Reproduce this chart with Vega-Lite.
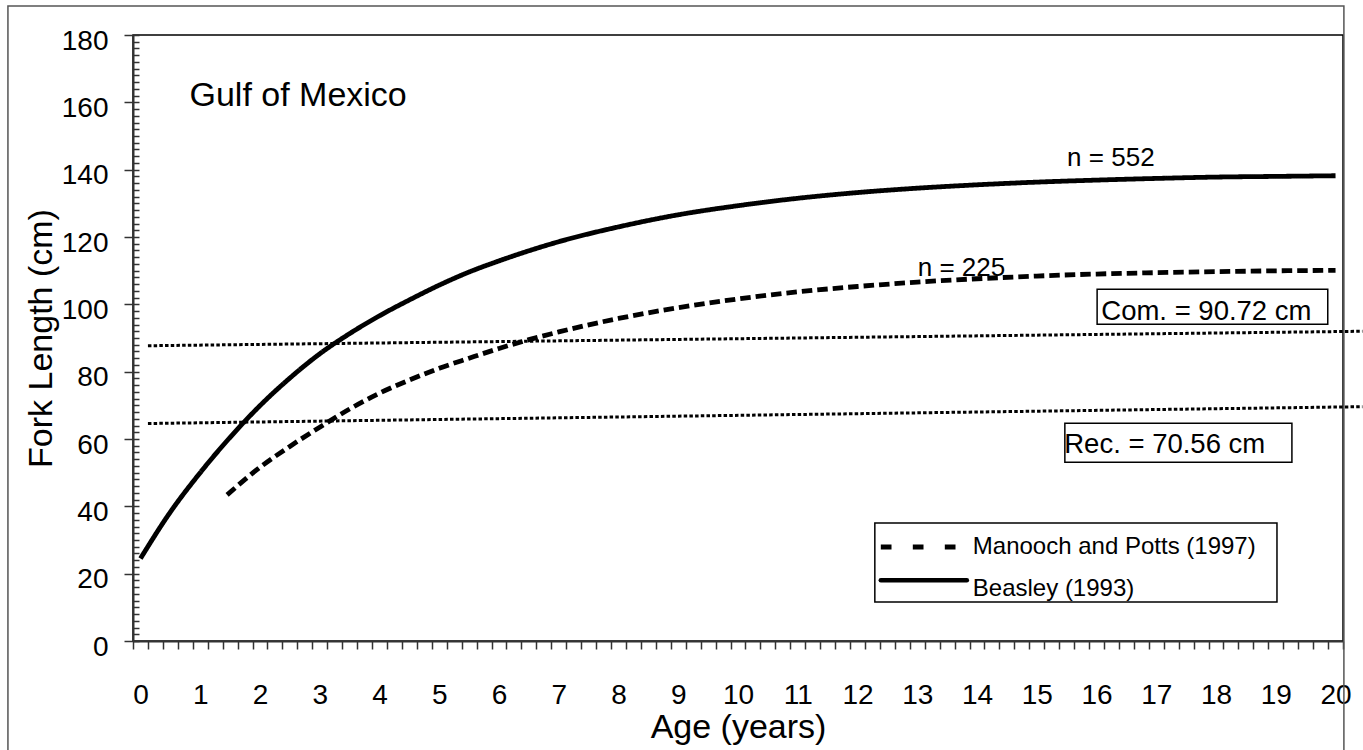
{
  "$schema": "https://vega.github.io/schema/vega-lite/v6.json",
  "width": 1210,
  "height": 606,
  "autosize": "none",
  "padding": {"left": 133, "top": 35, "right": 20, "bottom": 109},
  "background": "white",
  "config": {
    "font": "Liberation Sans",
    "view": {"stroke": "#000", "strokeWidth": 1.5},
    "axis": {"grid": false}
  },
  "datasets": {
    "growth": [
      {"series": "Beasley (1993)", "age": 0, "len": 24.5},
      {"series": "Beasley (1993)", "age": 0.5, "len": 38.3},
      {"series": "Beasley (1993)", "age": 1, "len": 50.0},
      {"series": "Beasley (1993)", "age": 1.5, "len": 60.5},
      {"series": "Beasley (1993)", "age": 2, "len": 69.9},
      {"series": "Beasley (1993)", "age": 2.5, "len": 78.1},
      {"series": "Beasley (1993)", "age": 3, "len": 85.3},
      {"series": "Beasley (1993)", "age": 3.5, "len": 91.3},
      {"series": "Beasley (1993)", "age": 4, "len": 96.6},
      {"series": "Beasley (1993)", "age": 4.5, "len": 101.3},
      {"series": "Beasley (1993)", "age": 5, "len": 105.7},
      {"series": "Beasley (1993)", "age": 5.5, "len": 109.6},
      {"series": "Beasley (1993)", "age": 6, "len": 112.9},
      {"series": "Beasley (1993)", "age": 6.5, "len": 115.9},
      {"series": "Beasley (1993)", "age": 7, "len": 118.6},
      {"series": "Beasley (1993)", "age": 8, "len": 123.0},
      {"series": "Beasley (1993)", "age": 9, "len": 126.6},
      {"series": "Beasley (1993)", "age": 10, "len": 129.3},
      {"series": "Beasley (1993)", "age": 11, "len": 131.5},
      {"series": "Beasley (1993)", "age": 12, "len": 133.2},
      {"series": "Beasley (1993)", "age": 13, "len": 134.5},
      {"series": "Beasley (1993)", "age": 14, "len": 135.5},
      {"series": "Beasley (1993)", "age": 15, "len": 136.3},
      {"series": "Beasley (1993)", "age": 16, "len": 136.9},
      {"series": "Beasley (1993)", "age": 17, "len": 137.4},
      {"series": "Beasley (1993)", "age": 18, "len": 137.8},
      {"series": "Beasley (1993)", "age": 19, "len": 138.0},
      {"series": "Beasley (1993)", "age": 20, "len": 138.2},
      {"series": "Manooch and Potts (1997)", "age": 1.45, "len": 43.4},
      {"series": "Manooch and Potts (1997)", "age": 2, "len": 51.6},
      {"series": "Manooch and Potts (1997)", "age": 2.5, "len": 57.8},
      {"series": "Manooch and Potts (1997)", "age": 3, "len": 63.5},
      {"series": "Manooch and Potts (1997)", "age": 3.5, "len": 68.9},
      {"series": "Manooch and Potts (1997)", "age": 4, "len": 73.6},
      {"series": "Manooch and Potts (1997)", "age": 4.5, "len": 77.5},
      {"series": "Manooch and Potts (1997)", "age": 5, "len": 81.0},
      {"series": "Manooch and Potts (1997)", "age": 5.5, "len": 84.0},
      {"series": "Manooch and Potts (1997)", "age": 6, "len": 86.9},
      {"series": "Manooch and Potts (1997)", "age": 6.5, "len": 89.5},
      {"series": "Manooch and Potts (1997)", "age": 7, "len": 91.8},
      {"series": "Manooch and Potts (1997)", "age": 8, "len": 95.8},
      {"series": "Manooch and Potts (1997)", "age": 9, "len": 99.0},
      {"series": "Manooch and Potts (1997)", "age": 10, "len": 101.6},
      {"series": "Manooch and Potts (1997)", "age": 11, "len": 103.7},
      {"series": "Manooch and Potts (1997)", "age": 12, "len": 105.3},
      {"series": "Manooch and Potts (1997)", "age": 13, "len": 106.6},
      {"series": "Manooch and Potts (1997)", "age": 14, "len": 107.6},
      {"series": "Manooch and Potts (1997)", "age": 15, "len": 108.4},
      {"series": "Manooch and Potts (1997)", "age": 16, "len": 109.0},
      {"series": "Manooch and Potts (1997)", "age": 17, "len": 109.4},
      {"series": "Manooch and Potts (1997)", "age": 18, "len": 109.7},
      {"series": "Manooch and Potts (1997)", "age": 19, "len": 109.95},
      {"series": "Manooch and Potts (1997)", "age": 20, "len": 110.1}
    ],
    "refs": [
      {"line": "Com.", "age": 0.125, "len": 87.7},
      {"line": "Com.", "age": 20.45, "len": 92.0},
      {"line": "Rec.", "age": 0.125, "len": 64.6},
      {"line": "Rec.", "age": 20.45, "len": 69.6}
    ],
    "boxes": [
      {"label": "Com. = 90.72 cm", "tx": 16.08, "ty": 97.6, "x1": 16.01, "x2": 19.87, "y1": 94.1, "y2": 104.5},
      {"label": "Rec. = 70.56 cm", "tx": 15.46, "ty": 58.2, "x1": 15.47, "x2": 19.27, "y1": 53.1, "y2": 64.7}
    ],
    "notes": [
      {"label": "n = 552", "age": 16.24, "len": 143.6},
      {"label": "n = 225", "age": 13.74, "len": 110.9}
    ],
    "region": [
      {"label": "Gulf of Mexico", "age": 0.82, "len": 161.9}
    ],
    "key": [
      {"series": "Manooch and Potts (1997)", "x1": 12.39, "x2": 13.83, "y": 27.93, "tx": 13.93, "ty": 27.93},
      {"series": "Beasley (1993)", "x1": 12.39, "x2": 13.83, "y": 18.04, "tx": 13.93, "ty": 15.54}
    ]
  },
  "layer": [
    {
      "data": {"name": "growth"},
      "mark": {"type": "line", "color": "#000", "strokeWidth": 4.8, "interpolate": "monotone", "clip": false},
      "encoding": {
        "x": {
          "field": "age", "type": "quantitative",
          "scale": {"domain": [-0.125, 20.125], "nice": false, "zero": false},
          "axis": {
            "values": [-0.125,0.125,0.375,0.625,0.875,1.125,1.375,1.625,1.875,2.125,2.375,2.625,2.875,3.125,3.375,3.625,3.875,4.125,4.375,4.625,4.875,5.125,5.375,5.625,5.875,6.125,6.375,6.625,6.875,7.125,7.375,7.625,7.875,8.125,8.375,8.625,8.875,9.125,9.375,9.625,9.875,10.125,10.375,10.625,10.875,11.125,11.375,11.625,11.875,12.125,12.375,12.625,12.875,13.125,13.375,13.625,13.875,14.125,14.375,14.625,14.875,15.125,15.375,15.625,15.875,16.125,16.375,16.625,16.875,17.125,17.375,17.625,17.875,18.125,18.375,18.625,18.875,19.125,19.375,19.625,19.875,20.125],
            "labelExpr": "(datum.value + 0.125) % 1 == 0 ? format(datum.value + 0.125, 'd') : ''",
            "labelOffset": 7.47,
            "labelFontSize": 28,
            "labelColor": "#000",
            "labelPadding": 32,
            "labelFlush": false,
            "labelOverlap": false,
            "labelBound": false,
            "tickSize": 8,
            "tickColor": "#333",
            "tickWidth": 1.5,
            "domainColor": "#333",
            "domainWidth": 2,
            "title": "Age (years)",
            "titleFontSize": 34,
            "titleFontWeight": "normal",
            "titleColor": "#000",
            "titlePadding": 1
          }
        },
        "y": {
          "field": "len", "type": "quantitative",
          "scale": {"domain": [0, 180], "nice": false, "zero": false},
          "axis": {
            "orient": "left",
            "values": [0, 20, 40, 60, 80, 100, 120, 140, 160, 180],
            "labelFontSize": 28,
            "labelColor": "#000",
            "labelPadding": 16,
            "labelOffset": 6,
            "labelOverlap": false,
            "labelBound": false,
            "tickSize": 9,
            "tickColor": "#333",
            "tickWidth": 1.5,
            "domainColor": "#333",
            "domainWidth": 2,
            "title": "Fork Length (cm)",
            "titleFontSize": 34,
            "titleFontWeight": "normal",
            "titleColor": "#000",
            "titlePadding": 3
          }
        },
        "strokeDash": {
          "field": "series", "type": "nominal",
          "scale": {"domain": ["Manooch and Potts (1997)", "Beasley (1993)"], "range": [[10.5, 5], [1, 0]]},
          "legend": null
        }
      }
    },
    {
      "data": {"name": "refs"},
      "mark": {"type": "line", "color": "#000", "strokeWidth": 3, "strokeDash": [3.5, 2.2], "clip": false},
      "encoding": {
        "x": {"field": "age", "type": "quantitative", "scale": {"domain": [-0.125, 20.125], "nice": false, "zero": false}, "axis": null},
        "y": {
          "field": "len", "type": "quantitative",
          "scale": {"domain": [0, 180], "nice": false, "zero": false},
          "axis": {
            "orient": "left",
            "values": [0,2,4,6,8,10,12,14,16,18,20,22,24,26,28,30,32,34,36,38,40,42,44,46,48,50,52,54,56,58,60,62,64,66,68,70,72,74,76,78,80,82,84,86,88,90,92,94,96,98,100,102,104,106,108,110,112,114,116,118,120,122,124,126,128,130,132,134,136,138,140,142,144,146,148,150,152,154,156,158,160,162,164,166,168,170,172,174,176,178,180],
            "labels": false,
            "domain": false,
            "title": null,
            "tickSize": -6,
            "tickColor": "#333",
            "tickWidth": 1.5
          }
        },
        "detail": {"field": "line", "type": "nominal"}
      }
    },
    {
      "data": {"name": "boxes"},
      "mark": {"type": "rect", "fill": null, "fillOpacity": 0, "stroke": "#000", "strokeWidth": 1.5},
      "encoding": {
        "x": {"field": "x1", "type": "quantitative", "scale": {"domain": [-0.125, 20.125], "nice": false, "zero": false}, "axis": null},
        "x2": {"field": "x2"},
        "y": {"field": "y1", "type": "quantitative", "scale": {"domain": [0, 180], "nice": false, "zero": false}, "axis": null},
        "y2": {"field": "y2"}
      }
    },
    {
      "data": {"name": "boxes"},
      "mark": {"type": "text", "align": "left", "baseline": "middle", "fontSize": 27.5, "color": "#000"},
      "encoding": {
        "x": {"field": "tx", "type": "quantitative", "scale": {"domain": [-0.125, 20.125], "nice": false, "zero": false}, "axis": null},
        "y": {"field": "ty", "type": "quantitative", "scale": {"domain": [0, 180], "nice": false, "zero": false}, "axis": null},
        "text": {"field": "label"}
      }
    },
    {
      "data": {"name": "notes"},
      "mark": {"type": "text", "align": "center", "baseline": "middle", "fontSize": 26, "color": "#000"},
      "encoding": {
        "x": {"field": "age", "type": "quantitative", "scale": {"domain": [-0.125, 20.125], "nice": false, "zero": false}, "axis": null},
        "y": {"field": "len", "type": "quantitative", "scale": {"domain": [0, 180], "nice": false, "zero": false}, "axis": null},
        "text": {"field": "label"}
      }
    },
    {
      "data": {"name": "region"},
      "mark": {"type": "text", "align": "left", "baseline": "middle", "fontSize": 34, "color": "#000"},
      "encoding": {
        "x": {"field": "age", "type": "quantitative", "scale": {"domain": [-0.125, 20.125], "nice": false, "zero": false}, "axis": null},
        "y": {"field": "len", "type": "quantitative", "scale": {"domain": [0, 180], "nice": false, "zero": false}, "axis": null},
        "text": {"field": "label"}
      }
    },
    {
      "data": {"values": [{}]},
      "mark": {"type": "rect", "fill": "#fff", "stroke": "#000", "strokeWidth": 1.5, "clip": false},
      "encoding": {
        "x": {"datum": 12.29, "type": "quantitative", "scale": {"domain": [-0.125, 20.125], "nice": false, "zero": false}, "axis": null},
        "x2": {"datum": 19.02},
        "y": {"datum": 35.07, "type": "quantitative", "scale": {"domain": [0, 180], "nice": false, "zero": false}, "axis": null},
        "y2": {"datum": 11.59}
      }
    },
    {
      "data": {"name": "key"},
      "transform": [{"filter": "datum.series == 'Manooch and Potts (1997)'"}],
      "mark": {"type": "rule", "color": "#000", "strokeWidth": 5, "strokeDash": [10.7, 21.3]},
      "encoding": {
        "x": {"field": "x1", "type": "quantitative", "scale": {"domain": [-0.125, 20.125], "nice": false, "zero": false}, "axis": null},
        "x2": {"field": "x2"},
        "y": {"field": "y", "type": "quantitative", "scale": {"domain": [0, 180], "nice": false, "zero": false}, "axis": null}
      }
    },
    {
      "data": {"name": "key"},
      "transform": [{"filter": "datum.series == 'Beasley (1993)'"}],
      "mark": {"type": "rule", "color": "#000", "strokeWidth": 4.5, "strokeCap": "round"},
      "encoding": {
        "x": {"field": "x1", "type": "quantitative", "scale": {"domain": [-0.125, 20.125], "nice": false, "zero": false}, "axis": null},
        "x2": {"field": "x2"},
        "y": {"field": "y", "type": "quantitative", "scale": {"domain": [0, 180], "nice": false, "zero": false}, "axis": null}
      }
    },
    {
      "data": {"name": "key"},
      "mark": {"type": "text", "align": "left", "baseline": "middle", "fontSize": 24, "color": "#000"},
      "encoding": {
        "x": {"field": "tx", "type": "quantitative", "scale": {"domain": [-0.125, 20.125], "nice": false, "zero": false}, "axis": null},
        "y": {"field": "ty", "type": "quantitative", "scale": {"domain": [0, 180], "nice": false, "zero": false}, "axis": null},
        "text": {"field": "series"}
      }
    },
    {
      "data": {"values": [{}]},
      "mark": {"type": "rect", "fill": null, "fillOpacity": 0, "stroke": "#555", "strokeWidth": 1.5, "clip": false},
      "encoding": {
        "x": {"datum": -2.218, "type": "quantitative", "scale": {"domain": [-0.125, 20.125], "nice": false, "zero": false}, "axis": null},
        "x2": {"datum": 20.14},
        "y": {"datum": 188.6, "type": "quantitative", "scale": {"domain": [0, 180], "nice": false, "zero": false}, "axis": null},
        "y2": {"datum": -40}
      }
    }
  ],
  "resolve": {"axis": {"x": "independent", "y": "independent"}}
}
